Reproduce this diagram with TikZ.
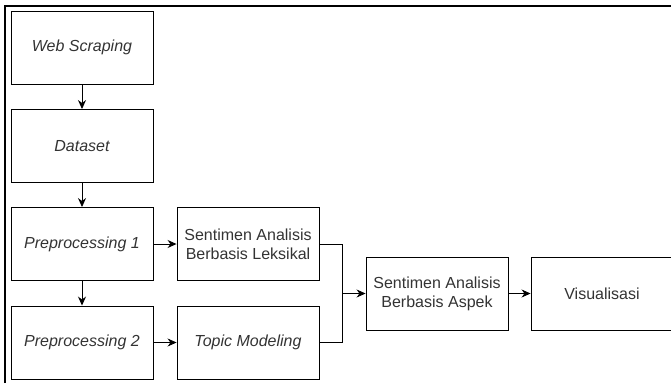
\documentclass[tikz,border=0pt]{standalone}
\usepackage{fontspec}
\setmainfont{Liberation Sans}
\usepackage{tikz}
\usetikzlibrary{positioning, arrows.meta}

\begin{document}
\begin{tikzpicture}[
  x=1pt, y=-1pt,
  box/.style={rectangle, draw, line width=0.9pt,
              minimum width=142pt, minimum height=73pt,
              text centered, align=center, text=black!80,
              font=\fontsize{16}{19}\selectfont},
  arrow/.style={-{Stealth[length=9pt,width=8pt]}, line width=0.9pt}
]
\useasboundingbox (0,0) rectangle (671,383);
\draw[line width=2pt] (5,383) -- (5,6) -- (671,6);

\node[box] (scrape)  at (82,47.5)   {\itshape Web Scraping};
\node[box] (data)    at (82,146)    {\itshape Dataset};
\node[box] (prep1)   at (82,244)    {\itshape Preprocessing 1};
\node[box] (prep2)   at (82,342.5)  {\itshape Preprocessing 2};
\node[box] (leksik)  at (248,244)   {Sentimen Analisis\\Berbasis Leksikal};
\node[box] (topic)   at (248,342.5) {\itshape Topic Modeling};
\node[box] (aspek)   at (437,293.5) {Sentimen Analisis\\Berbasis Aspek};
\node[box] (visual)  at (602,293.5) {Visualisasi};
\coordinate (join) at (342,293.5);

\draw[arrow] (scrape) -- (data);
\draw[arrow] (data)   -- (prep1);
\draw[arrow] (prep1)  -- (prep2);
\draw[arrow] (prep1)  -- (leksik);
\draw[arrow] (prep2)  -- (topic);
\draw[line width=0.9pt] (leksik.east) -| (join);
\draw[line width=0.9pt] (topic.east)  -| (join);
\draw[arrow] (join)   -- (aspek);
\draw[arrow] (aspek)  -- (visual);
\end{tikzpicture}
\end{document}
